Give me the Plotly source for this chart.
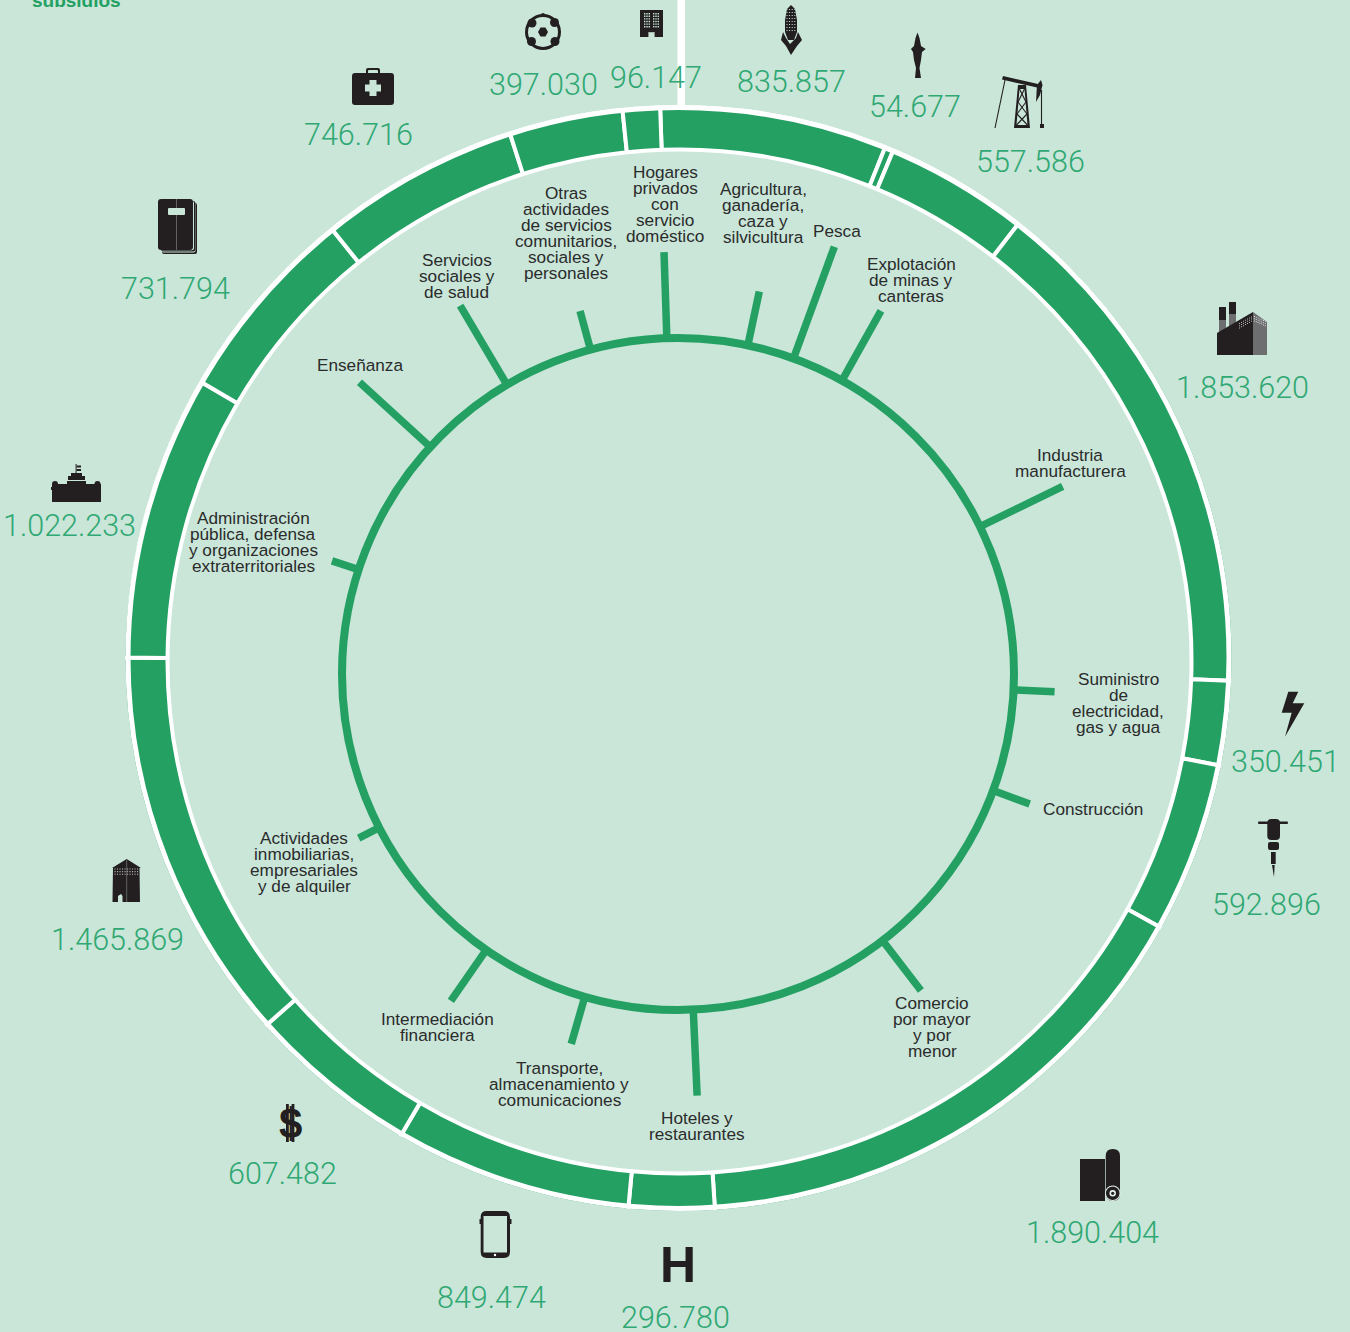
import plotly.graph_objects as go

W, H = 1350, 1332
BG = "#c9e6d9"
GREEN = "#24a063"
NUM = "#30a873"
DARK = "#231f20"
TXT = "#2b2b2b"

# sectors, clockwise from the top
sectors = [
    "Agricultura,|ganadería,|caza y|silvicultura",
    "Pesca",
    "Explotación|de minas y|canteras",
    "Industria|manufacturera",
    "Suministro|de|electricidad,|gas y agua",
    "Construcción",
    "Comercio|por mayor|y por|menor",
    "Hoteles y|restaurantes",
    "Transporte,|almacenamiento y|comunicaciones",
    "Intermediación|financiera",
    "Actividades|inmobiliarias,|empresariales|y de alquiler",
    "Administración|pública, defensa|y organizaciones|extraterritoriales",
    "Enseñanza",
    "Servicios|sociales y|de salud",
    "Otras|actividades|de servicios|comunitarios,|sociales y|personales",
    "Hogares|privados|con|servicio|doméstico",
]
amount_labels = ["835.857", "54.677", "557.586", "1.853.620", "350.451", "592.896", "1.890.404", "296.780",
                 "849.474", "607.482", "1.465.869", "1.022.233", "731.794", "746.716", "397.030", "96.147"]

# ring arcs in degrees (the original is not quite proportional to the amounts)
ring_arc = [23.8, 0.9, 15.05, 54.25, 8.9, 18.05, 57.35, 9.05,
            25.1, 18.2, 41.75, 29.9, 20.9, 21.0, 11.9, 3.9]

# inner spikes (angle clockwise from top, length)
spike_deg = [12.0, 20.1, 29.2, 64.0, 92.7, 110.3, 142.5, 177.4,
             196.1, 214.8, 242.8, 288.1, 312.5, 329.4, 344.9, 358.1]
spike_len = [55, 119, 80, 92, 41, 39, 63, 86, 49, 62, 23, 28, 96, 92, 40, 86]

# where the texts sit on the page
label_xy = [(763, 190), (837, 232), (911, 265), (1070, 456), (1118, 680), (1093, 810), (932, 1004), (697, 1119),
            (559, 1069), (437, 1020), (304, 839), (253, 519), (360, 366), (457, 261), (566, 194), (665, 173)]
amount_xy = [(791, 81), (915, 107), (1030, 161), (1242, 387), (1285, 761), (1266, 904), (1092, 1232), (675, 1317),
             (491, 1297), (282, 1173), (117, 939), (69, 525), (176, 289), (359, 135), (543, 85), (656, 78)]


def px(x):
    return x / W


def py(y):
    return 1 - y / H


fig = go.Figure()

# outer ring: the inner edge is a little off-centre from the outer one, so the pie
# follows the inner edge and a stroke on top trims the outer edge
cx, cy, R = 679.5, 661.5, 556.5
fig.add_trace(go.Pie(
    values=ring_arc,
    sort=False,
    direction="clockwise",
    rotation=-2.0,
    hole=512 / R,
    textinfo="none",
    hoverinfo="skip",
    showlegend=False,
    marker=dict(colors=[GREEN] * len(ring_arc), line=dict(color="white", width=4)),
    domain=dict(x=[px(cx - R), px(cx + R)], y=[py(cy + R), py(cy - R)]),
))

# inner circle and spikes
ix, iy, base, rmax = 678, 674, 336, 480
for deg, length in zip(spike_deg, spike_len):
    fig.add_trace(go.Scatterpolar(
        r=[base, base + length],
        theta=[deg, deg],
        mode="lines",
        line=dict(color=GREEN, width=7.5),
        hoverinfo="skip",
        showlegend=False,
    ))

shapes = []


def poly(pts, color=DARK):
    d = "M" + "L".join(f"{px(x):.5f},{py(y):.5f}" for x, y in pts) + "Z"
    shapes.append(dict(type="path", path=d, xref="paper", yref="paper", fillcolor=color, line=dict(width=0)))


def rect(x0, y0, x1, y1, color=DARK):
    poly([(x0, y0), (x1, y0), (x1, y1), (x0, y1)], color)


def rrect(x0, y0, x1, y1, r, color=DARK):
    pts = [(x0 + r, y0), (x1 - r, y0), (x1, y0 + r), (x1, y1 - r), (x1 - r, y1), (x0 + r, y1), (x0, y1 - r), (x0, y0 + r)]
    p = [f"{px(x):.5f},{py(y):.5f}" for x, y in pts]
    c = [f"{px(x):.5f},{py(y):.5f}" for x, y in [(x1, y0), (x1, y1), (x0, y1), (x0, y0)]]
    d = f"M{p[0]}L{p[1]}Q{c[0]} {p[2]}L{p[3]}Q{c[1]} {p[4]}L{p[5]}Q{c[2]} {p[6]}L{p[7]}Q{c[3]} {p[0]}Z"
    shapes.append(dict(type="path", path=d, xref="paper", yref="paper", fillcolor=color, line=dict(width=0)))


def circle(x, y, r, color=DARK):
    shapes.append(dict(type="circle", xref="paper", yref="paper", x0=px(x - r), x1=px(x + r), y0=py(y + r), y1=py(y - r),
                       fillcolor=color, line=dict(width=0)))


def ring(x, y, r, width, color):
    shapes.append(dict(type="circle", xref="paper", yref="paper", x0=px(x - r), x1=px(x + r), y0=py(y + r), y1=py(y - r),
                       fillcolor="rgba(0,0,0,0)", line=dict(color=color, width=width)))


def seg(x0, y0, x1, y1, width=1.0, color=DARK):
    shapes.append(dict(type="line", xref="paper", yref="paper", x0=px(x0), y0=py(y0), x1=px(x1), y1=py(y1),
                       line=dict(color=color, width=width)))


# trim of the ring's outer edge
ring(678.5, 658, 560, 14, BG)
ring(678.5, 658, 550.5, 5, "white")

# white stem at the top
rect(677.5, -2, 685, 105, "white")

# football
circle(543, 32, 18)
circle(543, 32, 15, BG)
poly([(538, 32), (540.5, 27.5), (545.5, 27.5), (548, 32), (545.5, 36.5), (540.5, 36.5)])
circle(532, 23, 4.5)
circle(554.5, 22.5, 4.5)
circle(531.5, 41.5, 4.5)
circle(555, 41.5, 4.5)
circle(543, 15, 2)

# office block
rect(640, 10, 663, 37)
for col in [644, 646.3, 648.6, 653, 655.3, 657.6]:
    for k in range(6):
        rect(col, 13 + k * 2.6, col + 1.4, 14.4 + k * 2.6, BG)
rect(648, 32, 655, 37, "#8a8f8c")
rect(649, 32.5, 654, 37, BG)

# corn
poly([(791, 5), (795, 9), (797, 20), (797, 32), (794, 40), (788, 40), (785, 32), (785, 20), (787, 9)])
for row in range(8):
    for col in range(4):
        rect(786.5 + col * 2.6, 9 + row * 3, 787.5 + col * 2.6, 10 + row * 3, BG)
poly([(783, 32), (786, 38), (790, 44), (796, 38), (798, 32), (802, 40), (797, 46), (791, 55), (786, 46), (781, 40)])

# fish
poly([(917.5, 32.5), (919.5, 38), (921, 46), (925.7, 49), (922, 52), (921, 60), (919.5, 68), (921, 78), (915, 78),
      (916, 68), (914, 60), (913, 52), (911, 49), (914, 46), (915.5, 38)])

# pump jack
poly([(1003, 76), (1038, 84), (1037, 87.5), (1002, 79.5)])
poly([(1037, 85), (1041, 80), (1042.5, 85), (1040, 95), (1036, 102)])
seg(995, 128, 1005, 80, 1.1)
seg(1041.5, 90, 1041.5, 126, 1.1)
rect(1040, 124, 1044, 128)
poly([(1018, 85), (1026, 85), (1030, 128), (1014, 128)])
poly([(1019.5, 89), (1024.5, 89), (1027.5, 125), (1016.5, 125)], BG)
seg(1019.5, 89, 1026, 102, 1.1)
seg(1024.5, 89, 1018, 102, 1.1)
seg(1018, 102, 1027, 114, 1.1)
seg(1026, 102, 1017, 114, 1.1)
seg(1017, 114, 1027.5, 125, 1.1)
seg(1027, 114, 1016.5, 125, 1.1)

# factory
rect(1219, 307, 1226, 320)
rect(1219, 320, 1226, 334, "#6d6e70")
rect(1229, 302, 1236, 314)
rect(1229, 314, 1236, 328, "#6d6e70")
poly([(1253, 312), (1267, 322), (1267, 355), (1253, 355)], "#6d6e70")
poly([(1217, 333), (1253, 312), (1253, 355), (1217, 355)])
for col in range(7):
    for row in range(3):
        rect(1239 + col * 2, 323 - col * 1.1 + row * 2.2, 1240 + col * 2, 324 - col * 1.1 + row * 2.2, "#b5b8b6")
        rect(1254 + col * 1.8, 316 + col * 0.8 + row * 2.2, 1255 + col * 1.8, 317 + col * 0.8 + row * 2.2, "#d5d8d6")

# bolt
poly([(1288.3, 691.7), (1298.3, 691.7), (1292.7, 703.3), (1304.3, 703.3), (1285, 736.7), (1291.7, 712.7), (1281.7, 712.7)])

# jackhammer
rrect(1258, 821.5, 1288, 824, 1)
rrect(1267.3, 819, 1280, 840, 4)
rrect(1268, 842, 1279, 850, 2)
rect(1271, 852, 1275.7, 864)
poly([(1272, 865), (1274.7, 865), (1274, 877)])

# roll of cloth
rect(1080, 1159, 1105, 1201)
rrect(1105.7, 1149, 1120, 1201, 7)
circle(1112.7, 1193.3, 7.8, "#e8f3ee")
circle(1112.7, 1193.3, 6.8)
circle(1112.7, 1193.3, 3.2, "#e8f3ee")
circle(1112.7, 1193.3, 1.6)

# phone
rect(479.5, 1219, 481, 1224)
rect(510, 1219, 511.5, 1224)
rrect(480.7, 1211, 510, 1258, 6)
rect(483.5, 1216, 507, 1252.5, BG)
circle(495, 1255, 1.2, "white")

# dollar bars, the S comes from the text below
rect(286, 1104, 288.8, 1142)
rect(291.6, 1104, 294.4, 1142)

# tower
poly([(126.7, 859), (141, 868), (139.5, 868), (140, 902), (112.5, 902), (113, 868), (112, 868)])
for col in range(10):
    for row in range(3):
        rect(114.5 + col * 2.5, 868.5 + row * 2.6, 115.6 + col * 2.5, 869.6 + row * 2.6, "#b5b8b6")
seg(126.7, 860, 126.7, 902, 0.6, "#8a8f8c")
poly([(118, 902), (118, 896), (121, 894), (122.5, 896), (122.5, 902)], BG)

# capitol
rect(52, 484, 101, 502)
circle(55, 484, 3)
circle(97.5, 484, 3)
rect(51, 487, 53, 490)
rect(67, 481, 86, 484)
rect(68, 476, 85, 480)
rect(71, 473, 82, 476)
rect(75.6, 464, 76.6, 473)
rect(76.6, 465.5, 81, 467.5)
rect(76.6, 469, 81, 471)

# notebook
rrect(162, 203, 197, 254, 2)
rrect(161.5, 202, 195.5, 252.5, 2, BG)
rrect(161, 201, 195.3, 251.5, 2)
rrect(160, 201, 194, 250.3, 2, BG)
rrect(158, 199, 193, 250, 3)
seg(176.5, 199, 176.5, 250, 0.6, "#8a8f8c")
rrect(168, 208, 185, 215, 1, BG)

# briefcase
rrect(366, 68, 380, 76, 2)
rrect(368, 70, 378, 76, 1, BG)
rrect(352, 73, 394, 105, 3)
rect(369.5, 80, 376.5, 96, BG)
rect(365, 84.5, 381, 91.5, BG)


def put(x, y, text, size, color, family="Liberation Sans", weight=None):
    return dict(x=px(x), y=py(y), xref="paper", yref="paper", text=text, showarrow=False,
                xanchor="center", yanchor="middle",
                font=dict(size=size, color=color, family=family, weight=weight))


annotations = []
for label, (lx, ly) in zip(sectors, label_xy):
    for k, line in enumerate(label.split("|")):
        annotations.append(put(lx, ly - 1 + k * 16, line, 17.2, TXT))
for text, (ax, ay) in zip(amount_labels, amount_xy):
    annotations.append(put(ax, ay, text, 30.5, NUM, family="Roboto", weight=300))
annotations.append(put(76, 0, "subsidios", 19, GREEN, weight=700))
annotations.append(put(678, 1265, "H", 50, DARK, weight=700))
annotations.append(put(290, 1123, "$", 42, DARK, weight=700))

fig.update_layout(
    width=W,
    height=H,
    margin=dict(l=0, r=0, t=0, b=0),
    paper_bgcolor=BG,
    plot_bgcolor=BG,
    shapes=shapes,
    annotations=annotations,
    polar=dict(
        domain=dict(x=[px(ix - rmax), px(ix + rmax)], y=[py(iy + rmax), py(iy - rmax)]),
        bgcolor="rgba(0,0,0,0)",
        radialaxis=dict(range=[0, rmax], tickvals=[base], showticklabels=False, ticks="", showline=False,
                        gridcolor=GREEN, gridwidth=8),
        angularaxis=dict(direction="clockwise", rotation=90, showgrid=False, showticklabels=False, ticks="", showline=False),
    ),
)

fig.write_html("out.html", config=dict(displayModeBar=False),
               post_script="document.body.style.margin='0';document.body.style.overflow='hidden';")
